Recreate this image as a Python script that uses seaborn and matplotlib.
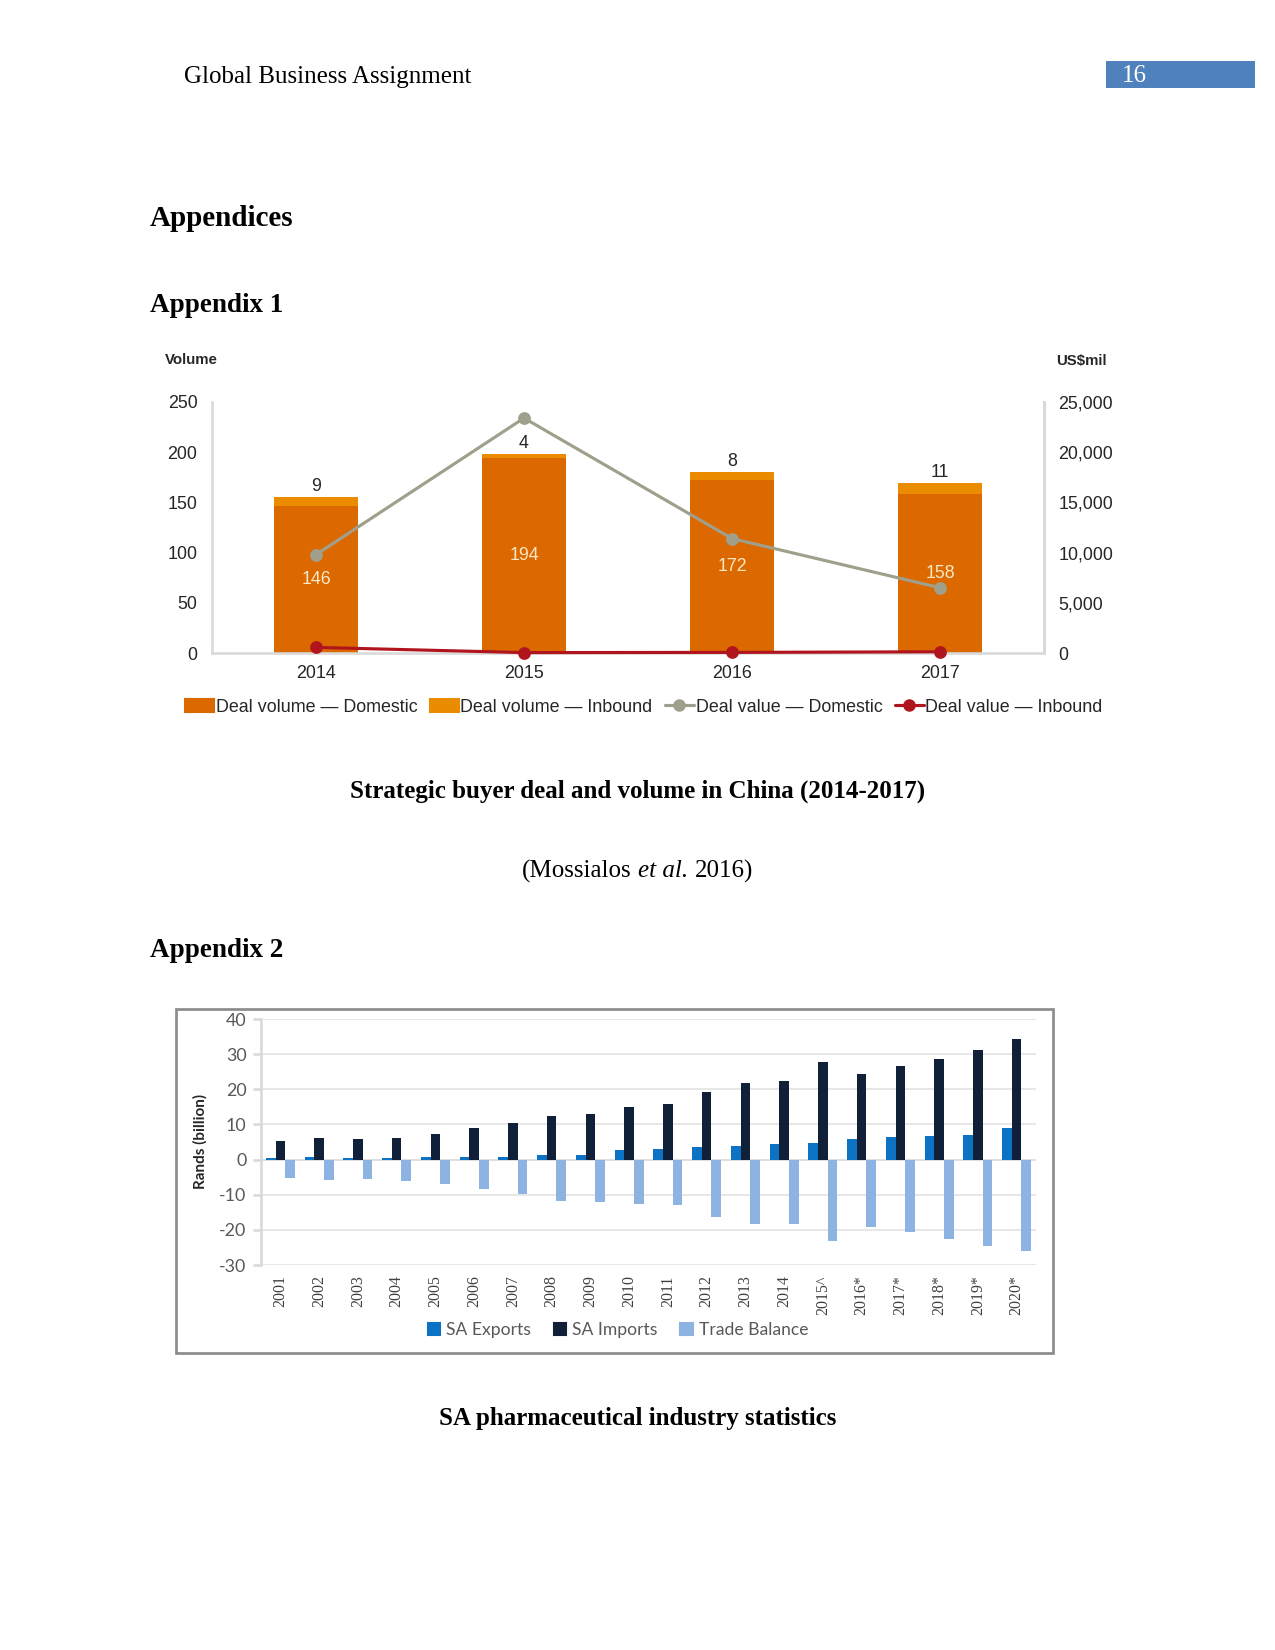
import numpy as np
import pandas as pd
import seaborn as sns
import matplotlib.pyplot as plt
from matplotlib.patches import Patch, Rectangle
from matplotlib.lines import Line2D
from matplotlib.ticker import FuncFormatter

# --- Appendix 1 data: strategic buyer deals in China ---
years1 = ["2014", "2015", "2016", "2017"]
vol_domestic = [146, 194, 172, 158]
vol_inbound = [9, 4, 8, 11]
value_domestic = [9800, 23400, 11400, 6500]   # US$mil
value_inbound = [560, 40, 60, 120]            # US$mil

# --- Appendix 2 data: SA pharmaceutical trade ---
years2 = ["2001", "2002", "2003", "2004", "2005", "2006", "2007", "2008", "2009", "2010",
          "2011", "2012", "2013", "2014", "2015^", "2016*", "2017*", "2018*", "2019*", "2020*"]
sa_exports = [0.4, 0.6, 0.4, 0.4, 0.6, 0.6, 0.8, 1.3, 1.3, 2.7,
              3.1, 3.5, 4.0, 4.5, 4.8, 5.9, 6.3, 6.8, 7.1, 9.0]
sa_imports = [5.2, 6.0, 5.8, 6.0, 7.2, 8.9, 10.3, 12.5, 13.0, 15.0,
              15.7, 19.3, 21.8, 22.4, 27.7, 24.4, 26.5, 28.7, 31.1, 34.4]
trade_balance = [-5.2, -5.7, -5.5, -6.0, -7.0, -8.5, -9.8, -11.9, -12.1, -12.7,
                 -13.0, -16.3, -18.2, -18.2, -23.1, -19.1, -20.5, -22.6, -24.6, -25.9]

sns.set_theme(style="white")
plt.rcParams["font.family"] = ["Liberation Sans", "DejaVu Sans"]
plt.rcParams["axes.unicode_minus"] = False

W, H = 1275, 1650
def fx(px):
    return px / W
def fy(py):
    return 1 - py / H

fig = plt.figure(figsize=(8.5, 11), dpi=150)
serif = "Liberation Serif"

# page header
fig.text(fx(184), fy(77), "Global Business Assignment", family=serif, fontsize=12,
         color="black", va="center")
fig.patches.append(Rectangle((fx(1106), fy(88)), (1255 - 1106) / W, (88 - 61) / H,
                             transform=fig.transFigure, color="#4F81BD", lw=0))
fig.text(fx(1122), fy(76), "16", family=serif, fontsize=12, color="white", va="center")

fig.text(fx(150), fy(218), "Appendices", family=serif, fontsize=14, weight="bold",
         color="black", va="center")
fig.text(fx(150), fy(305), "Appendix 1", family=serif, fontsize=13, weight="bold",
         color="black", va="center")
fig.text(fx(150), fy(950), "Appendix 2", family=serif, fontsize=13, weight="bold",
         color="black", va="center")

# ---------------- chart 1 ----------------
c_dom = "#DC6900"
c_inb = "#EB8C00"
c_gray = "#A09F8B"
c_red = "#B0151D"
txt = "#262626"

ax1 = fig.add_axes([fx(212), fy(653), (1044 - 212) / W, (653 - 402) / H])
totals = [d + i for d, i in zip(vol_domestic, vol_inbound)]
sns.barplot(x=years1, y=totals, color=c_inb, width=0.4, saturation=1, linewidth=0, ax=ax1)
sns.barplot(x=years1, y=vol_domestic, color=c_dom, width=0.4, saturation=1, linewidth=0, ax=ax1)
ax1.bar_label(ax1.containers[0], labels=[str(v) for v in vol_inbound], padding=1,
              fontsize=8.5, color=txt)
ax1.bar_label(ax1.containers[1], labels=[str(v) for v in vol_domestic], label_type="center",
              fontsize=8.5, color="#FCE6C4")
ax1.set_ylim(0, 250)
ax1.set_yticks(range(0, 251, 50))
ax1.set_xlim(-0.5, 3.5)
ax1.tick_params(axis="y", length=0, pad=7, labelsize=8.6, labelcolor=txt)
ax1.tick_params(axis="x", length=0, pad=6, labelsize=8.6, labelcolor=txt)
for s in ["left", "right", "bottom"]:
    ax1.spines[s].set_color("#D9D9D9")
ax1.spines["top"].set_visible(False)

ax2 = ax1.twinx()
sns.pointplot(x=years1, y=value_domestic, color=c_gray, markers="o", linestyles="-",
              errorbar=None, markersize=5, linewidth=1.5, ax=ax2)
sns.pointplot(x=years1, y=value_inbound, color=c_red, markers="o", linestyles="-",
              errorbar=None, markersize=5, linewidth=1.5, ax=ax2)
for ln in ax2.lines:
    ln.set_clip_on(False)
ax2.set_ylim(0, 25000)
ax2.set_yticks(range(0, 25001, 5000))
ax2.yaxis.set_major_formatter(FuncFormatter(lambda v, p: f"{v:,.0f}"))
ax2.set_xlim(-0.5, 3.5)
ax2.set_ylabel("")
ax2.tick_params(axis="y", length=0, pad=7, labelsize=8.6, labelcolor=txt)
for s in ["top", "left", "bottom"]:
    ax2.spines[s].set_visible(False)
ax2.spines["right"].set_color("#D9D9D9")
ax1.set_zorder(1)
ax2.set_zorder(2)
ax2.patch.set_visible(False)

fig.text(fx(165), fy(360), "Volume", fontsize=7.2, weight="bold", color=txt, va="center")
fig.text(fx(1056), fy(361), "US$mil", fontsize=7.2, weight="bold", color=txt, va="center")

h1 = [Patch(color=c_dom), Patch(color=c_inb),
      Line2D([], [], color=c_gray, marker="o", markersize=5, lw=1.5),
      Line2D([], [], color=c_red, marker="o", markersize=5, lw=1.5)]
l1 = ["Deal volume \u2014 Domestic", "Deal volume \u2014 Inbound",
      "Deal value \u2014 Domestic", "Deal value \u2014 Inbound"]
fig.legend(h1, l1, loc="center", bbox_to_anchor=(fx(644), fy(707)), ncol=4, frameon=False,
           fontsize=8.6, handlelength=1.6, handletextpad=0.1, columnspacing=0.7,
           labelcolor=txt)

fig.text(fx(637.5), fy(791), "Strategic buyer deal and volume in China (2014-2017)",
         family=serif, fontsize=12, weight="bold", color="black", ha="center", va="center")

# citation with italic "et al."
renderer = fig.canvas.get_renderer()
parts = [("(Mossialos", "normal"), ("et al.", "italic"), ("2016)", "normal")]
objs = [fig.text(0, fy(871), s, family=serif, fontsize=12, style=st, color="black",
                 va="center") for s, st in parts]
probe = fig.text(0, 0, "a a", family=serif, fontsize=12)
probe2 = fig.text(0, 0, "aa", family=serif, fontsize=12)
space = probe.get_window_extent(renderer).width - probe2.get_window_extent(renderer).width
probe.remove()
probe2.remove()
widths = [o.get_window_extent(renderer).width for o in objs]
total = sum(widths) + space * (len(objs) - 1)
x0 = 637.5 - total / 2
for o, w in zip(objs, widths):
    o.set_x(x0 / W)
    x0 += w + space

# ---------------- chart 2 ----------------
fig.patches.append(Rectangle((fx(176), fy(1353)), (1053 - 176) / W, (1353 - 1009) / H,
                             transform=fig.transFigure, fill=False,
                             edgecolor="#8C8C8C", lw=1.3))

series = ["SA Exports", "SA Imports", "Trade Balance"]
pal = {"SA Exports": "#0B72C4", "SA Imports": "#0F2038", "Trade Balance": "#8DB3E2"}
df2 = pd.DataFrame({
    "year": years2 * 3,
    "series": [series[0]] * len(years2) + [series[1]] * len(years2) + [series[2]] * len(years2),
    "value": sa_exports + sa_imports + trade_balance,
})

ax3 = fig.add_axes([fx(261), fy(1265), (1036 - 261) / W, (1265 - 1019) / H])
ax3.set_axisbelow(True)
ax3.yaxis.grid(True, color="#E3E3E3", lw=0.8)
sns.barplot(data=df2, x="year", y="value", hue="series", palette=pal, width=0.75,
            saturation=1, linewidth=0, legend=False, ax=ax3)
ax3.axhline(0, color="#D0D0D0", lw=0.8, zorder=0.5)
ax3.set_ylim(-30, 40)
ax3.set_yticks(range(-30, 41, 10))
ax3.set_xlim(-0.5, len(years2) - 0.5)
ax3.set_xlabel("")
ax3.set_ylabel("")
for s in ["top", "right", "bottom"]:
    ax3.spines[s].set_visible(False)
ax3.spines["left"].set_color("#D9D9D9")
ax3.tick_params(axis="y", left=True, length=4, color="#D9D9D9", pad=3, labelsize=8.6,
                labelcolor="#595959")
for t in ax3.get_yticklabels():
    t.set_family("Lato")
ax3.tick_params(axis="x", length=0, pad=5, labelsize=7.6, labelcolor="#404040", rotation=90)
for t in ax3.get_xticklabels():
    t.set_family(serif)

fig.text(fx(200), fy(1141), "Rands (billion)", family="Lato", fontsize=7.3, weight="bold",
         rotation=90, color="#262626", ha="center", va="center")

h2 = [Patch(color=pal[s]) for s in series]
fig.legend(h2, series, loc="center", bbox_to_anchor=(fx(618), fy(1330)), ncol=3, frameon=False,
           prop={"family": "Lato", "size": 8.4}, labelcolor="#595959",
           handlelength=0.7, handleheight=0.7, handletextpad=0.35, columnspacing=1.3)

fig.text(fx(637.5), fy(1419), "SA pharmaceutical industry statistics",
         family=serif, fontsize=12, weight="bold", color="black", ha="center", va="center")

fig.savefig("out.png", dpi=150)
